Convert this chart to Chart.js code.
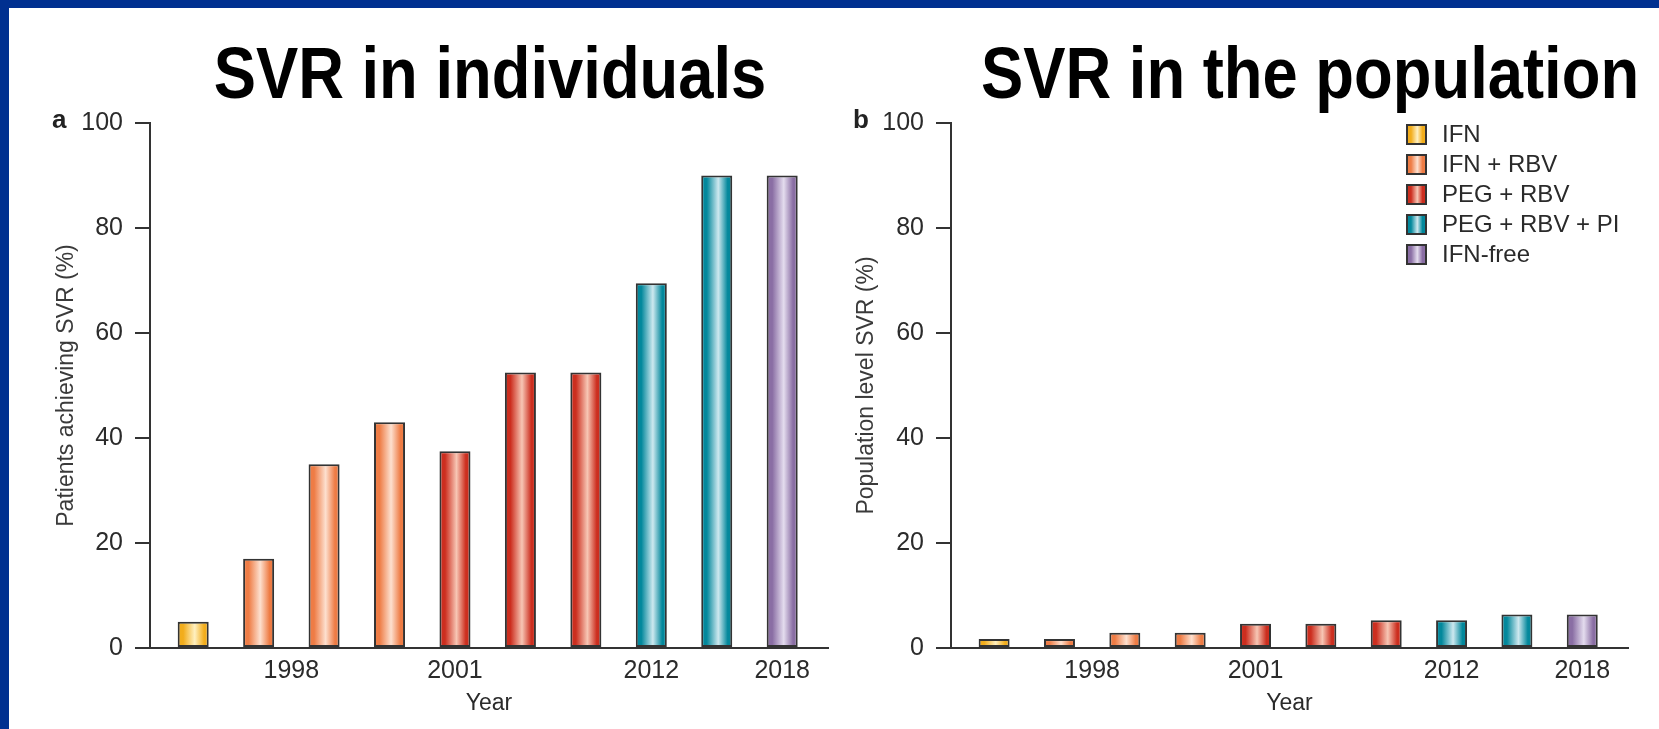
<!DOCTYPE html>
<html>
<head>
<meta charset="utf-8">
<script src="https://cdn.jsdelivr.net/npm/chart.js@4.4.1/dist/chart.umd.min.js"></script>
<style>
  html, body { margin: 0; padding: 0; background: #fff; }
  body { width: 1659px; height: 729px; position: relative; overflow: hidden; font-family: "Liberation Sans", Arial, sans-serif; }
  canvas { position: absolute; top: 0; }
  #grafico1 { left: 0; }
  #grafico2 { left: 830px; }
  .moldura { position: absolute; background: #003090; z-index: 5; }
  .titulo { position: absolute; top: 37px; font-weight: bold; font-size: 72px; line-height: 72px; white-space: nowrap; color: #000; transform: translateX(-50%) scaleX(0.88); }
  .painel { position: absolute; top: 106px; font-weight: bold; font-size: 26px; line-height: 26px; color: #222; }
  #legenda { position: absolute; left: 1406px; top: 119px; font-size: 24px; color: #2a2a2a; }
  #legenda .item { height: 30px; display: flex; align-items: center; white-space: nowrap; }
  #legenda .caixa { width: 17px; height: 17px; border: 2px solid #333; margin-right: 15px; }
</style>
</head>
<body>
<canvas id="grafico1" width="830" height="729"></canvas>
<canvas id="grafico2" width="829" height="729"></canvas>
<div class="moldura" style="left:0;top:0;width:1659px;height:8px"></div>
<div class="moldura" style="left:0;top:0;width:9px;height:729px"></div>
<div class="titulo" style="left:490px">SVR in individuals</div>
<div class="titulo" style="left:1310px">SVR in the population</div>
<div class="painel" style="left:52px">a</div>
<div class="painel" style="left:853px">b</div>
<div id="legenda"></div>
<script>
// dados
const treatments = ['IFN', 'IFN + RBV', 'PEG + RBV', 'PEG + RBV + PI', 'IFN-free'];
const barTreatment = [0, 1, 1, 1, 2, 2, 2, 3, 3, 4];
const barOrder = [0, 1, 2, 3, 4, 5, 6, 7, 8, 9];
const individualSVR = [5, 17, 35, 43, 37.5, 52.5, 52.5, 69.5, 90, 90];
const populationSVR = [1.7, 1.7, 2.9, 2.9, 4.6, 4.6, 5.3, 5.3, 6.4, 6.4];
const yearLabels = ['1998', '2001', '2012', '2018'];
const yearAt = [1.5, 4, 7, 9];
const yTicks = [0, 20, 40, 60, 80, 100];

// cores (borda escura, centro claro)
const palette = [
  { dark: '#f2ad1c', light: '#fff0c0' },
  { dark: '#ee7c45', light: '#fde0cf' },
  { dark: '#cc2e1f', light: '#f7c6b4' },
  { dark: '#03889c', light: '#cde8ef' },
  { dark: '#8a6ea4', light: '#e4dcee' }
];

const FAMILY = "'Liberation Sans', Arial, sans-serif";
const INK = '#2b2b2b';

function addStops(g, c) {
  g.addColorStop(0, c.dark);
  g.addColorStop(0.18, c.dark);
  g.addColorStop(0.55, c.light);
  g.addColorStop(0.85, c.dark);
  g.addColorStop(1, c.dark);
}

// gradiente horizontal em cada barra
const barGradients = {
  id: 'barGradients',
  beforeDatasetsDraw(chart) {
    const ctx = chart.ctx;
    chart.getDatasetMeta(0).data.forEach((bar, i) => {
      const x0 = bar.x - bar.width / 2;
      const g = ctx.createLinearGradient(x0, 0, x0 + bar.width, 0);
      addStops(g, palette[barTreatment[i]]);
      bar.options = Object.assign({}, bar.options, { backgroundColor: g });
    });
  }
};

function makeChart(el, values, yTitle, lay) {
  return new Chart(el, {
    type: 'bar',
    data: {
      datasets: [{
        data: barOrder.map((x, i) => ({ x: x, y: values[i] })),
        backgroundColor: c => palette[barTreatment[c.dataIndex]].dark,
        borderColor: '#333',
        borderWidth: 2,
        borderSkipped: false,
        barPercentage: 0.474,
        categoryPercentage: 1
      }]
    },
    options: {
      responsive: false,
      animation: false,
      layout: { padding: { top: 123, left: 0, right: lay.padRight, bottom: 0 } },
      plugins: { legend: { display: false }, tooltip: { enabled: false } },
      scales: {
        x: {
          type: 'linear',
          min: -0.66,
          max: 9.7,
          offset: false,
          grid: { display: false, drawTicks: false },
          border: { display: true, color: '#333', width: 2 },
          afterBuildTicks: s => { s.ticks = yearAt.map(v => ({ value: v })); },
          ticks: {
            autoSkip: false, maxRotation: 0, padding: 8, color: INK,
            font: { family: FAMILY, size: 25 },
            callback: (v, i) => yearLabels[i]
          },
          title: {
            display: true, text: 'Year', color: INK,
            font: { family: FAMILY, size: 23 },
            padding: { top: 0, bottom: 12 }
          },
          afterFit: s => { s.height = 81; }
        },
        y: {
          min: 0,
          max: 100,
          grid: { drawOnChartArea: false, drawTicks: true, tickLength: 15, color: '#333', lineWidth: 2 },
          border: { display: true, color: '#333', width: 2 },
          afterBuildTicks: s => { s.ticks = yTicks.map(v => ({ value: v })); },
          ticks: { padding: 12, color: INK, font: { family: FAMILY, size: 25 } },
          title: {
            display: true, text: yTitle, color: '#3a3a3a',
            font: { family: FAMILY, size: 23 },
            padding: { top: lay.titlePad, bottom: 0 }
          },
          afterFit: s => { s.width = lay.yWidth; }
        }
      }
    },
    plugins: [barGradients]
  });
}

makeChart(document.getElementById('grafico1'), individualSVR, 'Patients achieving SVR (%)',
  { yWidth: 150, padRight: 2, titlePad: 53 });
makeChart(document.getElementById('grafico2'), populationSVR, 'Population level SVR (%)',
  { yWidth: 121, padRight: 31, titlePad: 23 });

// legenda
const legenda = document.getElementById('legenda');
treatments.forEach((t, i) => {
  const c = palette[i];
  const row = document.createElement('div');
  row.className = 'item';
  const box = document.createElement('span');
  box.className = 'caixa';
  box.style.background = 'linear-gradient(to right, ' + c.dark + ' 0%, ' + c.dark + ' 18%, ' +
    c.light + ' 55%, ' + c.dark + ' 85%, ' + c.dark + ' 100%)';
  const txt = document.createElement('span');
  txt.textContent = t;
  row.appendChild(box);
  row.appendChild(txt);
  legenda.appendChild(row);
});
</script>
</body>
</html>
